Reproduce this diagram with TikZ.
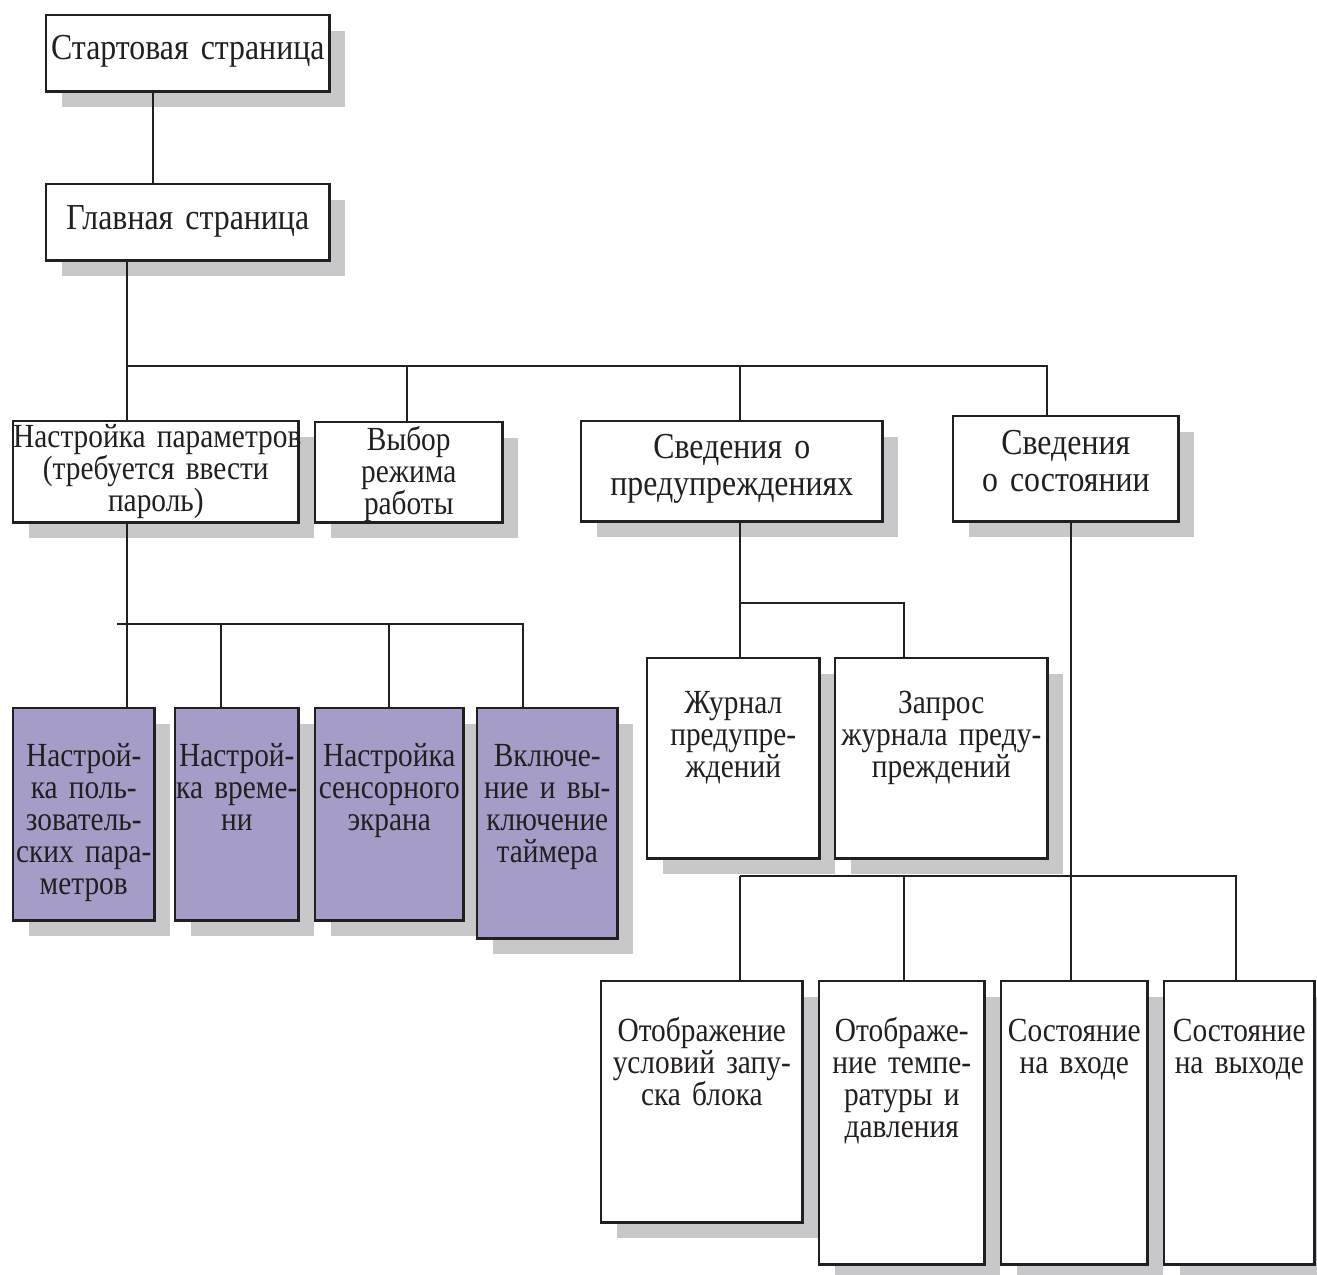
\documentclass[tikz,border=0pt]{standalone}
\usepackage{fontspec}
\setmainfont{Liberation Serif}[FakeStretch=0.87]
\usetikzlibrary{shadows}
\definecolor{ink}{HTML}{231F20}
\definecolor{shd}{HTML}{C8C8CA}
\definecolor{lilac}{HTML}{A59DC7}

\begin{document}
\begin{tikzpicture}[x=0.01cm, y=-0.01cm,
  blk/.style={draw=ink, line width=0.7pt, fill=white, text=ink, anchor=north west,
    inner sep=0pt, align=center, font=\fontsize{9.6}{9.1}\selectfont,
    drop shadow={shadow xshift=0.16cm, shadow yshift=-0.16cm, fill=shd, draw=none, opacity=1}},
  big/.style={blk, font=\fontsize{10.4}{10.5}\selectfont},
  lil/.style={blk, fill=lilac},
  ln/.style={draw=ink, line width=0.6pt}]
\useasboundingbox (0,0) rectangle (1317,1275);

% upper levels
\node[big, text width=2.83cm, text height=0.44cm, text depth=0.32cm] (1) at (45,14) {Стартовая~страница};
\node[big, text width=2.83cm, text height=0.45cm, text depth=0.31cm] (2) at (45,183) {Главная~страница};
\node[blk, text width=2.85cm, text height=0.26cm, text depth=0.75cm] (3) at (12,420) {Настройка~параметров\\(требуется~ввести\\пароль)};
\node[blk, text width=1.87cm, text height=0.28cm, text depth=0.72cm] (4) at (314,421) {Выбор\\режима\\работы};
\node[big, text width=3.01cm, text height=0.37cm, text depth=0.63cm] (5) at (580,420) {Сведения~о\\предупреждениях};
\node[big, text width=2.25cm, text height=0.38cm, text depth=0.67cm] (6) at (952,415) {Сведения\\о~состоянии};

% settings
\node[lil, text width=1.41cm, text height=0.58cm, text depth=1.54cm] (7) at (12,707) {Настрой-\\ка~поль-\\зователь-\\ских~пара-\\метров};
\node[lil, text width=1.23cm, text height=0.58cm, text depth=1.54cm] (8) at (174,707) {Настрой-\\ка~време-\\ни};
\node[lil, text width=1.48cm, text height=0.58cm, text depth=1.54cm] (9) at (314,707) {Настройка\\сенсорного\\экрана};
\node[lil, text width=1.40cm, text height=0.58cm, text depth=1.72cm] (10) at (476,707) {Включе-\\ние~и~вы-\\ключение\\таймера};

% warnings
\node[blk, text width=1.72cm, text height=0.55cm, text depth=1.45cm] (11) at (646,657) {Журнал\\предупре-\\ждений};
\node[blk, text width=2.12cm, text height=0.55cm, text depth=1.45cm] (12) at (834,657) {Запрос\\журнала~преду-\\преждений};

% state
\node[blk, text width=2.01cm, text height=0.60cm, text depth=1.81cm] (13) at (600,980) {Отображение\\условий~запу-\\ска~блока};
\node[blk, text width=1.65cm, text height=0.60cm, text depth=2.23cm] (14) at (818,980) {Отображе-\\ние~темпе-\\ратуры~и\\давления};
\node[blk, text width=1.46cm, text height=0.60cm, text depth=2.23cm] (15) at (1000,980) {Состояние\\на~входе};
\node[blk, text width=1.50cm, text height=0.60cm, text depth=2.23cm] (16) at (1163,980) {Состояние\\на~выходе};

\coordinate (a) at (153,100);
\coordinate (j0) at (127,366);
\coordinate (j2) at (407,366);
\coordinate (j3) at (740,366);
\coordinate (j4) at (1047,366);
\coordinate (k0) at (117,624);
\coordinate (k2) at (221,624);
\coordinate (k3) at (389,624);
\coordinate (k4) at (523,624);
\coordinate (m0) at (740,603);
\coordinate (m1) at (904,603);
\coordinate (n0) at (740,876);
\coordinate (n1) at (904,876);
\coordinate (n2) at (1071,876);
\coordinate (n3) at (1236,876);

\draw[ln] (1.south -| a) -- (2.north -| a);
\draw[ln] (2.south -| j0) -- (3.north -| j0);
\draw[ln] (j0) -- (j4) -- (6.north -| j4);
\draw[ln] (j2) -- (4.north -| j2);
\draw[ln] (j3) -- (5.north -| j3);
\draw[ln] (3.south -| j0) -- (7.north -| j0);
\draw[ln] (k0) -- (k4) -- (10.north -| k4);
\draw[ln] (k2) -- (8.north -| k2);
\draw[ln] (k3) -- (9.north -| k3);
\draw[ln] (5.south -| m0) -- (11.north -| m0);
\draw[ln] (m0) -- (m1) -- (12.north -| m1);
\draw[ln] (6.south -| n2) -- (15.north -| n2);
\draw[ln] (n0) -- (n3) -- (16.north -| n3);
\draw[ln] (n0) -- (13.north -| n0);
\draw[ln] (n1) -- (14.north -| n1);
\end{tikzpicture}
\end{document}
